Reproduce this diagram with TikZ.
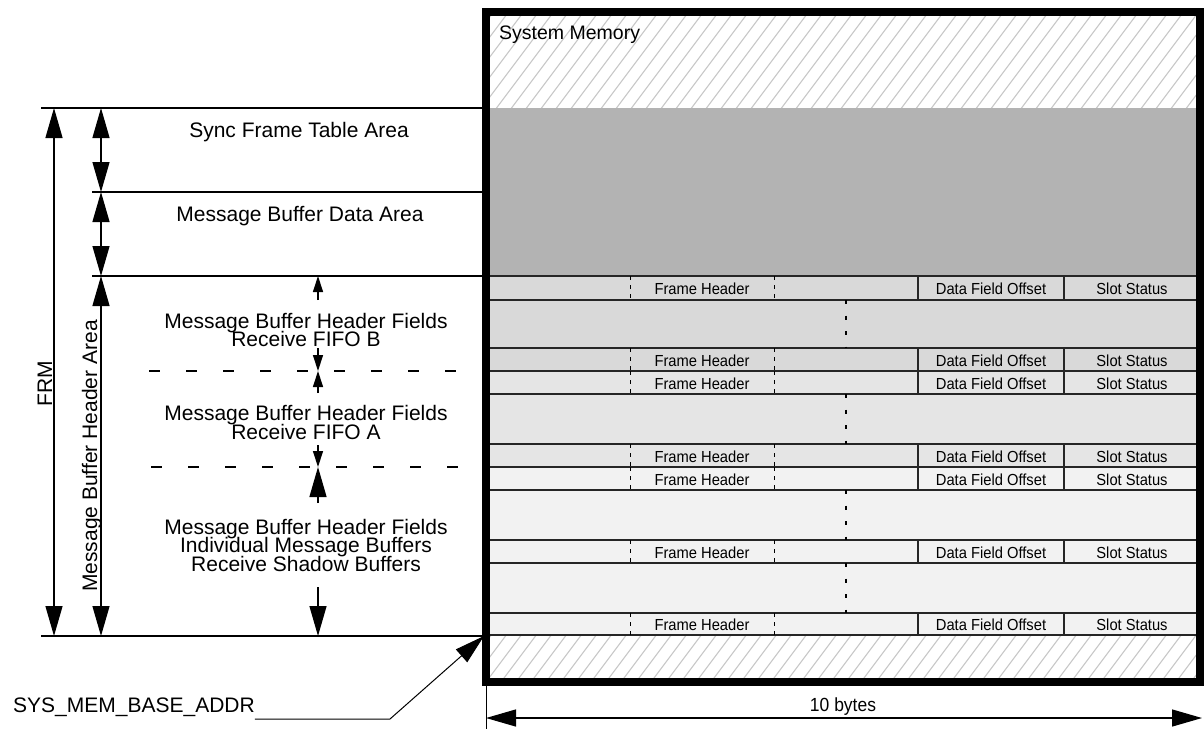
\documentclass[tikz,border=0pt]{standalone}
\usepackage{fontspec}
\setmainfont{Liberation Sans}
\newfontfamily\cellfont[FakeStretch=0.92]{Liberation Sans}
\usepackage{xcolor}
\usetikzlibrary{arrows.meta,calc}
\definecolor{mHatch}{HTML}{C8C8C8}
\definecolor{mData}{HTML}{B3B3B3}
\definecolor{mFifoB}{HTML}{D9D9D9}
\definecolor{mFifoA}{HTML}{E5E5E5}
\definecolor{mIndiv}{HTML}{F2F2F2}
\tikzset{
  lbl/.style={font={\fontsize{21}{18.5}\selectfont\lineskiplimit=-20pt},
              align=center, inner sep=0pt},
  cell/.style={font=\cellfont\fontsize{16}{18}\selectfont, inner sep=0pt,
               anchor=base},
  lvl/.style={line width=1.3pt},
  split/.style={line width=1.3pt, dash pattern=on 11pt off 26pt},
  bigdim/.style={{Triangle[length=30pt,width=17pt]}-{Triangle[length=30pt,width=17pt]},
                 line width=1.3pt},
  bigtip/.style={-{Triangle[length=30pt,width=17pt]}, line width=1.3pt},
  smalltip/.style={-{Triangle[length=16pt,width=10pt]}, line width=1.3pt},
  rowline/.style={line width=1.4pt, black!85},
  % short ticks round the frame header, heavy dots for the skipped rows
  fhtick/.style={line width=0.9pt, dash pattern=on 4pt off 5pt},
  gapdots/.style={line width=2.6pt, dash pattern=on 4pt off 11.5pt},
  hatch/.style={mHatch, line width=1.1pt},
}

\begin{document}
\begin{tikzpicture}[x=1pt, y=-1pt]
\useasboundingbox (0,0) rectangle (1204,729);

%% ── the system memory block ─────────────────────────────────────────────
\coordinate (memNW) at (486,12);
\coordinate (memSE) at (1200,682);

% memory outside the FRM: hatched
\begin{scope}
  \clip (490,16) rectangle (1196,108) (490,635) rectangle (1196,678);
  \foreach \k in {-34,...,49}
    \draw[hatch] ({480+\k*15},690) -- ++(510,-680);
\end{scope}

\fill[mData]  (490,108) rectangle (1196,276);
\fill[mFifoB] (490,276) rectangle (1196,371);
\fill[mFifoA] (490,371) rectangle (1196,467);
\fill[mIndiv] (490,467) rectangle (1196,635);

%% header rows, then the rows that are left out
\foreach \t/\b [count=\n] in {276/300,348/371,371/394,444/467,467/490,540/563,613/635}{
  \draw[rowline] (486,\t) -- (1200,\t) (486,\b) -- (1200,\b)
                 (918,\t) -- (918,\b) (1064,\t) -- (1064,\b);
  \draw[fhtick] (630,\t) -- (630,\b) (774,\t) -- (774,\b);
  \node[cell] (fh\n)  at (702,{(\t+\b)/2+6.5})  {Frame Header};
  \node[cell] (dfo\n) at (991,{(\t+\b)/2+6.5})  {Data Field Offset};
  \node[cell] (ss\n)  at (1132,{(\t+\b)/2+6.5}) {Slot Status};
}
\foreach \t/\b in {300/348,394/444,490/540,563/613}
  \draw[gapdots] (846,\t) -- (846,\b);

\draw[line width=8pt] (memNW) rectangle (memSE);
\node[font=\fontsize{19.5}{22}\selectfont, anchor=base west, inner sep=0pt]
  (sysmem) at (499,39) {System Memory};

%% ── areas on the left ───────────────────────────────────────────────────
\coordinate (lvTop)   at (41,108);
\coordinate (lvSync)  at (92,192);
\coordinate (lvHdr)   at (92,276);
\coordinate (lvBot)   at (41,636);
\coordinate (lvFifoB) at (149,371);
\coordinate (lvFifoA) at (151,467);
\coordinate (xFrm)  at (54,0);
\coordinate (xArea) at (101,0);
\coordinate (xSub)  at (318,0);

\foreach \c in {lvTop,lvSync,lvHdr,lvBot}
  \draw[lvl] (\c) -- (\c -| memNW);
\foreach \c in {lvFifoB,lvFifoA}
  \draw[split] (\c) -- (\c -| memNW);

\draw[bigdim] (lvTop -| xFrm)   -- (lvBot -| xFrm);
\draw[bigdim] (lvTop -| xArea)  -- (lvSync -| xArea);
\draw[bigdim] (lvSync -| xArea) -- (lvHdr -| xArea);
\draw[bigdim] (lvHdr -| xArea)  -- (lvBot -| xArea);

\node[lbl, rotate=90, anchor=base] (frm) at (52,384) {FRM};
\node[lbl, rotate=90, anchor=base] (hdrarea) at (97,456)
  {Message Buffer Header Area};
\node[lbl, anchor=base] (syncarea) at (299,137) {Sync Frame Table Area};
\node[lbl, anchor=base] (dataarea) at (300,221) {Message Buffer Data Area};

\node[lbl] (fifob) at (306,330)
  {Message Buffer Header Fields\\Receive FIFO B};
\node[lbl] (fifoa) at (306,422.5)
  {Message Buffer Header Fields\\Receive FIFO A};
\node[lbl] (indiv) at (306,545)
  {Message Buffer Header Fields\\Individual Message Buffers\\Receive Shadow Buffers};

\draw[smalltip] ($(lvHdr -| xSub)+(0,24)$)   -- (lvHdr -| xSub);
\draw[smalltip] ($(lvFifoB -| xSub)+(0,-23)$) -- (lvFifoB -| xSub);
\draw[smalltip] ($(lvFifoB -| xSub)+(0,22)$)  -- (lvFifoB -| xSub);
\draw[smalltip] ($(lvFifoA -| xSub)+(0,-22)$) -- (lvFifoA -| xSub);
\draw[bigtip]   ($(lvFifoA -| xSub)+(0,36)$)  -- (lvFifoA -| xSub);
\draw[bigtip]   ($(lvBot -| xSub)+(0,-49)$)   -- (lvBot -| xSub);

%% ── base address and width ──────────────────────────────────────────────
\node[lbl, anchor=base west] (sysaddr) at (13,712) {SYS\_MEM\_BASE\_ADDR};
\coordinate (bend) at (390,719);
\draw[bigtip, line width=1pt] (sysaddr.base east |- bend) -- (bend)
  -- ([xshift=-2pt]memNW |- lvBot);

\coordinate (wL) at (486,718);
\coordinate (wR) at (1202,718);
\draw[line width=1pt] (wL |- memSE) -- (486,729);
\draw[bigdim] (wL) -- (wR);
\node[cell, font=\cellfont\fontsize{19}{22}\selectfont] (tenbytes) at (843,711)
  {10 bytes};

\end{tikzpicture}
\end{document}
